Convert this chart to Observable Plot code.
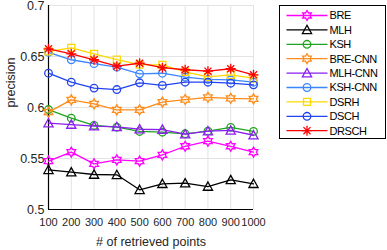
<!DOCTYPE html>
<html><head>
<meta charset="utf-8">
<script src="https://cdn.jsdelivr.net/npm/d3@7"></script>
<script src="https://cdn.jsdelivr.net/npm/@observablehq/plot@0.6"></script>
<style>
body{margin:0;background:#fff}
#chart{position:relative;width:387px;height:250px}
</style>
</head><body><div id="chart"></div>
<script>
// ---- data ----
const points = [100,200,300,400,500,600,700,800,900,1000];
const yTicks = [0.5,0.55,0.6,0.65,0.7];
const yTickLabels = ["0.5","0.55","0.6","0.65","0.7"];
const methods = ["BRE","MLH","KSH","BRE-CNN","MLH-CNN","KSH-CNN","DSRH","DSCH","DRSCH"];
const colors  = ["#ff00ff","#000000","#1fa31f","#ff8c1a","#8a1ff0","#3a86ff","#ffd700","#2243f0","#ff0000"];
const markers = ["hexagram","triangle","circle","hexagram","triangle","circle","square","circle","asterisk"];
const bre     = [0.5474,0.5562,0.5448,0.5487,0.5474,0.5536,0.5620,0.5670,0.5620,0.5562];
const mlh     = [0.5389,0.5366,0.5343,0.5340,0.5193,0.5252,0.5258,0.5225,0.5290,0.5252];
const ksh     = [0.5980,0.5895,0.5824,0.5807,0.5765,0.5758,0.5742,0.5768,0.5805,0.5765];
const breCnn  = [0.5954,0.6075,0.6036,0.5977,0.5977,0.6052,0.6078,0.6100,0.6090,0.6085];
const mlhCnn  = [0.5847,0.5833,0.5817,0.5810,0.5787,0.5784,0.5738,0.5768,0.5775,0.5728];
const kshCnn  = [0.6540,0.6468,0.6430,0.6395,0.6330,0.6336,0.6297,0.6275,0.6270,0.6248];
const dsrh    = [0.6550,0.6585,0.6526,0.6470,0.6420,0.6418,0.6350,0.6300,0.6320,0.6287];
const dsch    = [0.6336,0.6248,0.6190,0.6176,0.6242,0.6216,0.6248,0.6248,0.6238,0.6222];
const drsch   = [0.6575,0.6526,0.6468,0.6405,0.6434,0.6390,0.6370,0.6356,0.6380,0.6320];
const seriesValues = [bre,mlh,ksh,breCnn,mlhCnn,kshCnn,dsrh,dsch,drsch];
const xLabel = "# of retrieved points";
const yLabel = "precision";

// ---- marker shapes ----
const sizes = {hexagram:5, triangle:4.6, circle:3.8, square:3.5, asterisk:5};
function R(size){return Math.sqrt(size/Math.PI);}
const symbolDefs = {
  circle:{draw(c,s){const r=R(s);c.moveTo(r,0);c.arc(0,0,r,0,2*Math.PI);}},
  square:{draw(c,s){const r=R(s);c.rect(-r,-r,2*r,2*r);}},
  triangle:{draw(c,s){const r=R(s);const h=r*0.95;c.moveTo(0,-r);c.lineTo(r,h*0.85);c.lineTo(-r,h*0.85);c.closePath();}},
  hexagram:{draw(c,s){const r=R(s);const ri=r/Math.sqrt(3);
    for(let k=0;k<12;k++){const a=-Math.PI/2+k*Math.PI/6;const rr=k%2?ri:r;
      const x=rr*Math.cos(a),y=rr*Math.sin(a); if(k===0)c.moveTo(x,y);else c.lineTo(x,y);} c.closePath();}},
  asterisk:{draw(c,s){const r=R(s);
    for(let k=0;k<4;k++){const a=k*Math.PI/4;const x=r*Math.cos(a),y=r*Math.sin(a);c.moveTo(-x,-y);c.lineTo(x,y);}}}
};

const rows = [];
methods.forEach((m,i)=>points.forEach((p,j)=>rows.push({method:m,x:p,y:seriesValues[i][j]})));

const font = "'Liberation Sans', Arial, Helvetica, sans-serif";
const marks = [
  Plot.gridX(points,{stroke:"#e3e3e3",strokeOpacity:1}),
  Plot.gridY(yTicks,{stroke:"#e3e3e3",strokeOpacity:1}),
  Plot.ruleX([points[0]],{stroke:"#000",strokeWidth:1.2}),
  Plot.ruleY([yTicks[0]],{stroke:"#000",strokeWidth:1.2}),
  Plot.axisX(points,{tickSize:0,tickPadding:9,fontSize:11,fill:"#262626",label:null,tickFormat:d=>String(d),letterSpacing:"-0.3px"}),
  Plot.axisY(yTicks,{tickSize:0,tickPadding:4,fontSize:12.5,fill:"#262626",label:null,tickFormat:(d,i)=>yTickLabels[yTicks.indexOf(d)]}),
  Plot.text([xLabel],{frameAnchor:"bottom",dy:36,fontSize:12.5,fill:"#262626",text:d=>d,letterSpacing:"-0.3px"}),
  Plot.text([yLabel],{frameAnchor:"left",dx:-38,rotate:-90,fontSize:12.5,fill:"#262626",text:d=>d})
];
methods.forEach((m,i)=>{
  const data = rows.filter(r=>r.method===m);
  marks.push(Plot.line(data,{x:"x",y:"y",stroke:colors[i],strokeWidth:1.3}));
  marks.push(Plot.dot(data,{x:"x",y:"y",symbol:symbolDefs[markers[i]],r:sizes[markers[i]],stroke:colors[i],fill:"none",strokeWidth:1.3}));
});

const plot = Plot.plot({
  width:387,height:250,
  marginLeft:48,marginRight:134,marginTop:5,marginBottom:41,
  style:{fontFamily:font,background:"#fff",overflow:"visible"},
  x:{domain:[points[0],points[points.length-1]],axis:null},
  y:{domain:[yTicks[0],yTicks[yTicks.length-1]],axis:null},
  marks
});
document.getElementById("chart").appendChild(plot);

// ---- legend (drawn inside the same svg) ----
const svg = d3.select(plot);
const lg = svg.append("g").attr("font-family",font).attr("font-size",11).attr("text-anchor","start");
const lx=279.5, ly=5.5, lw=106, lh=133;
lg.append("rect").attr("x",lx).attr("y",ly).attr("width",lw).attr("height",lh).attr("fill","#fff").attr("stroke","#000").attr("stroke-width",1);
methods.forEach((m,i)=>{
  const y = ly+10+i*14.4;
  const g = lg.append("g");
  g.append("line").attr("x1",lx+7).attr("x2",lx+48).attr("y1",y).attr("y2",y).attr("stroke",colors[i]).attr("stroke-width",1.3);
  const p = d3.path(); const s=sizes[markers[i]]; symbolDefs[markers[i]].draw(p,s*s*Math.PI);
  g.append("path").attr("d",p.toString()).attr("transform",`translate(${lx+27.5},${y})`).attr("fill","none").attr("stroke",colors[i]).attr("stroke-width",1.3);
  g.append("text").attr("x",lx+50).attr("y",y).attr("dy","0.35em").attr("fill","#000").attr("text-anchor","start").attr("letter-spacing","-0.4px").text(m);
});
</script>
</body></html>
